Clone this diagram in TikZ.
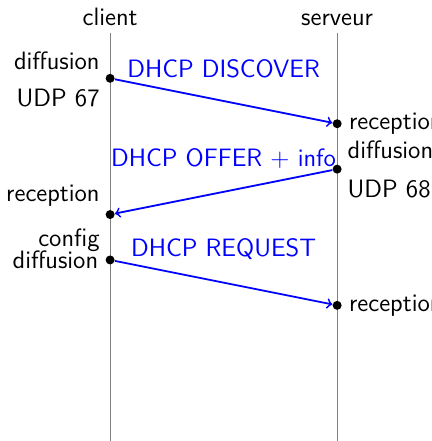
\documentclass[tikz,border=0pt]{standalone}
\usepackage{amsmath,amssymb}
\usepackage{color}
\usepackage{tikz}

\begin{document}
\begin{tikzpicture}[font=\sffamily\fontsize{12.6pt}{15pt}\selectfont,
  dot/.style={circle,fill=black,inner sep=0pt,minimum size=4.5pt},
  msg/.style={blue,line width=0.9pt,->},
  msgtxt/.style={blue,above,inner sep=0pt},
  hautg/.style={yshift=-1pt}]
\useasboundingbox (-1.94,0.58) rectangle (5.66,-7.19);
\node[above] (client) at (0,0) {client};
\node[above] (serveur) at (4,0) {serveur};
\coordinate (clientbas) at (0,-7.4);
\coordinate (serveurbas) at (4,-7.4);
\draw[gray] (client.south) -- (clientbas);
\draw[gray] (serveur.south) -- (serveurbas);

\node[dot,label={[hautg]above left:diffusion},label=below left:UDP 67] (c1) at (0,-0.8) {};
\node[dot,label=right:reception] (s1) at (4,-1.6) {};
\node[dot,label=above right:diffusion,label=below right:UDP 68] (s2) at (4,-2.4) {};
\node[dot,label={[hautg]above left:reception}] (c2) at (0,-3.2) {};
\node[dot,label={[hautg]above left:config},label=left:diffusion] (c3) at (0,-4.0) {};
\node[dot,label=right:reception] (s3) at (4,-4.8) {};

\draw[msg] (c1) -- (s1);
\draw[msg] (s2) -- (c2);
\draw[msg] (c3) -- (s3);
\node[msgtxt] (discover) at (2,-0.8) {DHCP DISCOVER};
\node[msgtxt] (offer) at (2,-2.4) {DHCP OFFER + info};
\node[msgtxt] (request) at (2,-4.0) {DHCP REQUEST};
\end{tikzpicture}
\end{document}
